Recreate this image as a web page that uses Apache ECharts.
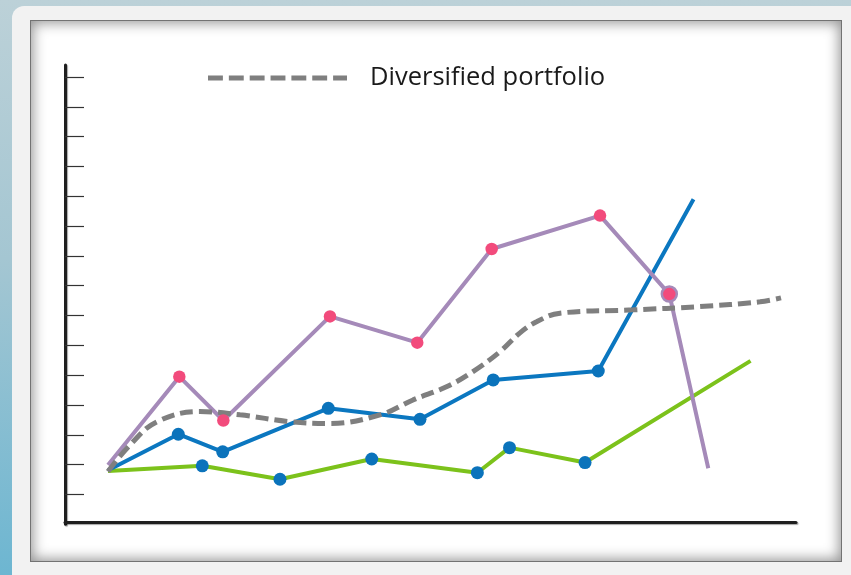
<!DOCTYPE html>
<html>
<head>
<meta charset="utf-8">
<script src="https://cdn.jsdelivr.net/npm/echarts@6/dist/echarts.min.js"></script>
<style>
  html, body { margin: 0; padding: 0; width: 851px; height: 575px; overflow: hidden; }
  body { background: linear-gradient(to bottom, #bcd1d8 0%, #a4c6d2 45%, #6db6d1 100%); position: relative; }
  #card { position: absolute; left: 12px; top: 6px; width: 860px; height: 580px; background: #f2f2f2; border-radius: 12px; }
  #panel { position: absolute; left: 30px; top: 20px; width: 812px; height: 542px; background: #ffffff;
           box-shadow: inset 0 0 0 1px #737373, inset 0 0 13px 3px rgba(0,0,0,0.42); }
  #chart { position: absolute; left: 0; top: 0; width: 851px; height: 575px; }
</style>
</head>
<body>
<div id="card"></div>
<div id="panel"></div>
<div id="chart"></div>
<script>
// x positions on a 0..100 scale, y values in tick units (0..15.4)
const xPurple = [5.88, 15.64, 21.66, 36.25, 48.19, 58.37, 73.19, 82.67, 88.0];
const yPurple = [1.99, 4.95, 3.48, 6.97, 6.09, 9.23, 10.35, 7.72, 1.88];
const xBlue = [5.88, 15.5, 21.57, 36.02, 48.56, 58.58, 72.95, 85.98];
const yBlue = [1.81, 3.02, 2.43, 3.89, 3.52, 4.84, 5.14, 10.90];
const xGreen = [5.88, 18.78, 29.41, 41.96, 56.41, 60.81, 71.14, 93.78];
const yGreen = [1.79, 1.96, 1.51, 2.19, 1.73, 2.57, 2.07, 5.48];
const xDiversified = [5.88, 8.89, 12.59, 18.47, 23.94, 30.78, 36.25, 43.09, 47.61, 52.26, 55.81, 59.51, 62.24, 64.57, 67.72, 77.7, 86.87, 95.08, 97.95];
const yDiversified = [1.77, 2.66, 3.44, 3.78, 3.67, 3.44, 3.38, 3.67, 4.17, 4.62, 5.12, 5.79, 6.42, 6.80, 7.08, 7.19, 7.30, 7.46, 7.59];
const yTickValues = [1, 2, 3, 4, 5, 6, 7, 8, 9, 10, 11, 12, 13, 14, 15];
const legendLabel = 'Diversified portfolio';

function pts(xs, ys, markerColor, special) {
  return xs.map(function (x, i) {
    const item = { value: [x, ys[i]] };
    if (i === 0 || i === xs.length - 1) {
      item.symbol = 'none';
    } else if (special && special[i]) {
      item.symbolSize = 15;
      item.itemStyle = { color: markerColor, borderColor: special[i], borderWidth: 2.5 };
    }
    return item;
  });
}

// legend key: seven dashes, drawn as one path icon
const dashIcon = 'path://M0,0h15v5h-15z M21,0h15v5h-15z M42,0h15v5h-15z M63,0h15v5h-15z M84,0h15v5h-15z M105,0h15v5h-15z M126,0h14v5h-14z';

const chart = echarts.init(document.getElementById('chart'), null, { renderer: 'canvas' });
const axisLineStyle = { color: '#1f1f1f', width: 3, shadowColor: 'rgba(0,0,0,0.35)', shadowBlur: 1, shadowOffsetX: 1, shadowOffsetY: 1 };
chart.setOption({
  animation: false,
  backgroundColor: 'transparent',
  grid: { left: 65, right: 55, top: 65, bottom: 50.7 },
  legend: {
    data: [{ name: legendLabel, icon: dashIcon, itemStyle: { color: '#7f7f7f' } }],
    left: 208, top: 65, padding: 0,
    itemWidth: 139, itemHeight: 5,
    textStyle: { fontSize: 25.5, color: '#1a1a1a', fontFamily: 'Open Sans', padding: [0, 0, 0, 18] }
  },
  xAxis: {
    type: 'value', min: 0, max: 100, offset: -2,
    axisLine: { show: true, lineStyle: axisLineStyle },
    axisTick: { show: false }, axisLabel: { show: false }, splitLine: { show: false }
  },
  yAxis: {
    type: 'value', min: 0, max: 15.4,
    axisLine: { show: true, lineStyle: axisLineStyle },
    axisTick: { show: true, inside: true, length: 19, customValues: yTickValues, lineStyle: { color: '#333', width: 1.2 } },
    axisLabel: { show: false }, splitLine: { show: false }
  },
  series: [
    {
      name: 'Green', type: 'line', symbol: 'circle', symbolSize: 13,
      lineStyle: { color: '#7cc21b', width: 4 }, itemStyle: { color: '#0b73bb' },
      data: pts(xGreen, yGreen)
    },
    {
      name: 'Blue', type: 'line', symbol: 'circle', symbolSize: 13,
      lineStyle: { color: '#0b77c0', width: 4 }, itemStyle: { color: '#0b73bb' },
      data: pts(xBlue, yBlue)
    },
    {
      name: 'Purple', type: 'line', symbol: 'circle', symbolSize: 12.5,
      lineStyle: { color: '#a58ab9', width: 4 }, itemStyle: { color: '#f24b7c' },
      data: pts(xPurple, yPurple, '#f24b7c', { 7: '#a58ab9' })
    },
    {
      name: legendLabel, type: 'line', symbol: 'none', smooth: 0.4,
      lineStyle: { color: '#7f7f7f', width: 5, type: [13, 6] }, itemStyle: { color: '#7f7f7f' },
      data: xDiversified.map(function (x, i) { return [x, yDiversified[i]]; })
    }
  ]
});
</script>
</body>
</html>
